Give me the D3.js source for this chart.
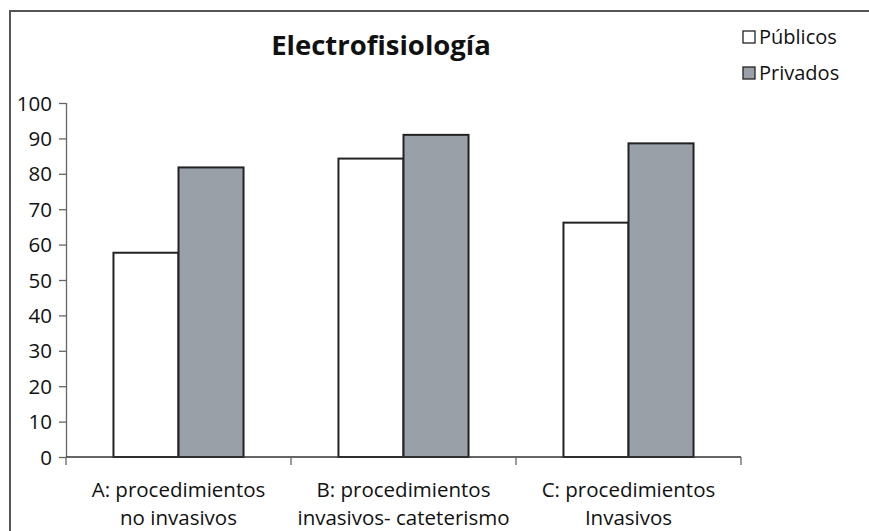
<!DOCTYPE html>
<html>
<head>
<meta charset="utf-8">
<script src="https://cdnjs.cloudflare.com/ajax/libs/d3/7.8.5/d3.min.js"></script>
<style>
  body { margin: 0; background: #fff; }
  text { font-family: "Open Sans", "Noto Sans", sans-serif; fill: #111; }
</style>
</head>
<body>
<div id="chart"></div>
<script>
// data
var categories = ["A", "B", "C"];
var catLabels = [
  ["A: procedimientos", "no invasivos"],
  ["B: procedimientos", "invasivos- cateterismo"],
  ["C: procedimientos", "Invasivos"]
];
var series = ["Públicos", "Privados"];
var publicos = [57.7, 84.3, 66.2];
var privados = [81.8, 91.0, 88.6];
var yTicks = [0, 10, 20, 30, 40, 50, 60, 70, 80, 90, 100];

var W = 869, H = 531;
var margin = {top: 103, left: 66, right: 128, bottom: 74};
var width = W - margin.left - margin.right,
    height = H - margin.top - margin.bottom;

var svg = d3.select("#chart").append("svg")
  .attr("width", W).attr("height", H);

// outer frame
svg.append("rect")
  .attr("x", 10).attr("y", 11)
  .attr("width", W + 20).attr("height", H + 20)
  .attr("fill", "none").attr("stroke", "#555").attr("stroke-width", 2);

svg.append("text")
  .attr("x", 381).attr("y", 55)
  .attr("text-anchor", "middle")
  .style("font-size", "27.5px").style("font-weight", "bold")
  .text("Electrofisiología");

var g = svg.append("g")
  .attr("transform", "translate(" + margin.left + "," + margin.top + ")");

var x = d3.scaleBand().domain(categories).range([0, width]).paddingInner(0).paddingOuter(0);
var x1 = d3.scaleBand().domain(series).range([0, x.bandwidth()]).paddingInner(0).paddingOuter(0.73);
var y = d3.scaleLinear().domain([0, 100]).range([height, 0]);

var color = {"Públicos": "#ffffff", "Privados": "#9aa0a7"};

var rows = categories.map(function(c, i) {
  return {cat: c, vals: [{s: "Públicos", v: publicos[i]}, {s: "Privados", v: privados[i]}]};
});

g.selectAll("g.grp")
  .data(rows)
  .enter().append("g")
    .attr("class", "grp")
    .attr("transform", function(d) { return "translate(" + x(d.cat) + ",0)"; })
  .selectAll("rect")
  .data(function(d) { return d.vals; })
  .enter().append("rect")
    .attr("x", function(d) { return x1(d.s); })
    .attr("width", x1.bandwidth())
    .attr("y", function(d) { return y(d.v); })
    .attr("height", function(d) { return height - y(d.v); })
    .attr("fill", function(d) { return color[d.s]; })
    .attr("stroke", "#222")
    .attr("stroke-width", 2);

// y axis
var yAxis = g.append("g")
  .call(d3.axisLeft(y).tickValues(yTicks).tickSize(7).tickPadding(7));
yAxis.selectAll("text").style("font-size", "20.5px").attr("dy", "0.35em");
yAxis.selectAll("line, path").attr("stroke", "#666").attr("stroke-width", 1.3);
yAxis.select(".domain").attr("d", "M0.5," + height + "V0");

// x axis: ticks at band boundaries
var xAxis = g.append("g").attr("transform", "translate(0," + height + ")");
xAxis.append("line")
  .attr("x1", 0).attr("x2", width)
  .attr("stroke", "#333").attr("stroke-width", 1.5);
var bounds = categories.map(function(c) { return x(c); }).concat([width]);
xAxis.selectAll("line.tk")
  .data(bounds)
  .enter().append("line")
    .attr("class", "tk")
    .attr("x1", function(d) { return d; }).attr("x2", function(d) { return d; })
    .attr("y1", 0).attr("y2", 8)
    .attr("stroke", "#666").attr("stroke-width", 1.3);

var lab = xAxis.selectAll("text.cat")
  .data(catLabels)
  .enter().append("text")
    .attr("class", "cat")
    .attr("text-anchor", "middle")
    .attr("x", function(d, i) { return x(categories[i]) + x.bandwidth() / 2; })
    .style("font-size", "20.5px");
lab.selectAll("tspan")
  .data(function(d) { return d; })
  .enter().append("tspan")
    .attr("x", function() { return d3.select(this.parentNode).attr("x"); })
    .attr("y", function(d, i) { return 40 + i * 27.5; })
    .text(function(d) { return d; });

// legend
var leg = svg.append("g").attr("transform", "translate(743,28)");
var li = leg.selectAll("g")
  .data(series)
  .enter().append("g")
    .attr("transform", function(d, i) { return "translate(0," + (i * 36) + ")"; });
li.append("rect")
  .attr("x", 0).attr("y", 3).attr("width", 12).attr("height", 12)
  .attr("fill", function(d) { return color[d]; })
  .attr("stroke", "#222").attr("stroke-width", 1.3);
li.append("text")
  .attr("x", 16).attr("y", 9).attr("dy", "0.35em")
  .style("font-size", "20px")
  .text(function(d) { return d; });
</script>
</body>
</html>
